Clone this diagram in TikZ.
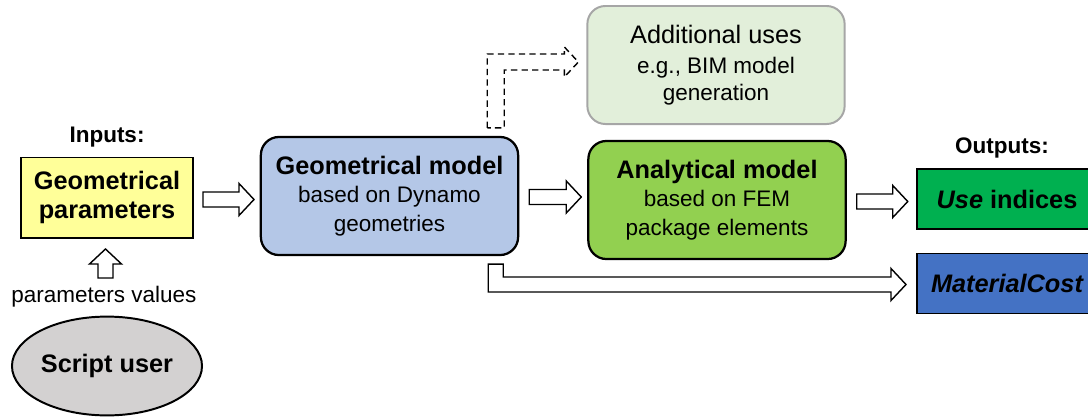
\documentclass[tikz,border=0pt]{standalone}
\usepackage{fontspec}
\setmainfont{Liberation Sans}
\usetikzlibrary{shapes.geometric,calc}

\definecolor{parYellow}{HTML}{FFFF99}
\definecolor{geoBlue}{HTML}{B4C7E7}
\definecolor{femGreen}{HTML}{92D050}
\definecolor{addGreen}{HTML}{E2EFDA}
\definecolor{addGray}{HTML}{A6A6A6}
\definecolor{useGreen}{HTML}{00B050}
\definecolor{costBlue}{HTML}{4472C4}
\definecolor{userGray}{HTML}{D3D1D1}

% hollow block arrow: start point, length, angle
\newcommand{\blockarrow}[3]{%
  \draw[blockarr, shift={#1}, rotate=#3] (0,-7.5) -- ({#2-15},-7.5) -- ({#2-15},-16)
    -- (#2,0) -- ({#2-15},16) -- ({#2-15},7.5) -- (0,7.5) -- cycle;}

\begin{document}
\begin{tikzpicture}[x=0.025cm, y=-0.025cm,
  box/.style={draw, line width=1.4pt, align=center, inner sep=0pt},
  model/.style={box, rounded corners=0.45cm, line width=1.6pt, minimum width=6.43cm,
    minimum height=2.95cm, font=\fontsize{16}{20.5}\selectfont},
  outbox/.style={box, minimum width=4.5cm, minimum height=1.5cm,
    font=\fontsize{18}{20}\selectfont\bfseries},
  blockarr/.style={draw, fill=white, line width=1pt},
  heading/.style={font=\fontsize{16}{19}\selectfont\bfseries}]
\useasboundingbox (0,0) rectangle (1088,416);

% inputs
\node[heading] (inputs) at (107,137) {Inputs:};
\node[box, fill=parYellow, minimum width=4.3cm, minimum height=2cm,
  font=\fontsize{18}{21}\selectfont\bfseries] (gp) at (107,197.5) {Geometrical\\parameters};
\node[font=\fontsize{16}{19}\selectfont] (pv) at (104,297) {parameters values};
\node[ellipse, draw, line width=1.4pt, fill=userGray, minimum width=4.75cm, minimum height=2.47cm,
  inner sep=0pt, font=\fontsize{18}{20}\selectfont\bfseries] (su) at (107,366) {Script user};

% models
\node[model, fill=geoBlue] (gm) at (389.5,196)
  {{\fontsize{18}{20}\selectfont\bfseries Geometrical model}\\based on Dynamo\\geometries};
\node[model, fill=femGreen] (am) at (717,200)
  {{\fontsize{18}{20}\selectfont\bfseries Analytical model}\\based on FEM\\package elements};
\node[model, fill=addGreen, draw=addGray, line width=1.4pt, font=\fontsize{16}{19}\selectfont] (add) at (716,65)
  {{\fontsize{18}{20}\selectfont Additional uses}\\[3pt]e.g., BIM model\\generation};

% outputs
\node[heading] (outputs) at (1002,148) {Outputs:};
\node[outbox, fill=useGreen] (ui) at (1007,199) {{\itshape Use} indices};
\node[outbox, fill=costBlue] (mc) at (1007,283.5) {\itshape MaterialCost};

% straight arrows
\blockarrow{($(gp.east)+(9,2)$)}{51}{0}
\blockarrow{($(gm.east)+(10,1)$)}{52}{0}
\blockarrow{($(am.east)+(10,1.5)$)}{51}{0}
\blockarrow{($(gp.south)+(-1.5,39.5)$)}{29}{90}

% bent arrows out of the geometrical model
\coordinate (ua) at ($(gm.north east)+(-32,-8)$);
\coordinate (ut) at ($(add.west)+(-8,-3)$);
\draw[blockarr, dash pattern=on 4.5pt off 3pt] (ua) |- ($(ut)+(-14,-8)$) -- ++(0,-7) -- (ut)
  -- ++(-14,15) -- ++(0,-7) -| ($(ua)+(17,0)$) -- cycle;

\coordinate (la) at ($(gm.south east)+(-31,8)$);
\coordinate (lt) at ($(mc.west)+(-10,1)$);
\draw[blockarr] (la) |- ($(lt)+(-15,7.5)$) -- ++(0,8.5) -- (lt) -- ++(-15,-16)
  -- ++(0,8.5) -| ($(la)+(15,0)$) -- cycle;
\end{tikzpicture}
\end{document}
